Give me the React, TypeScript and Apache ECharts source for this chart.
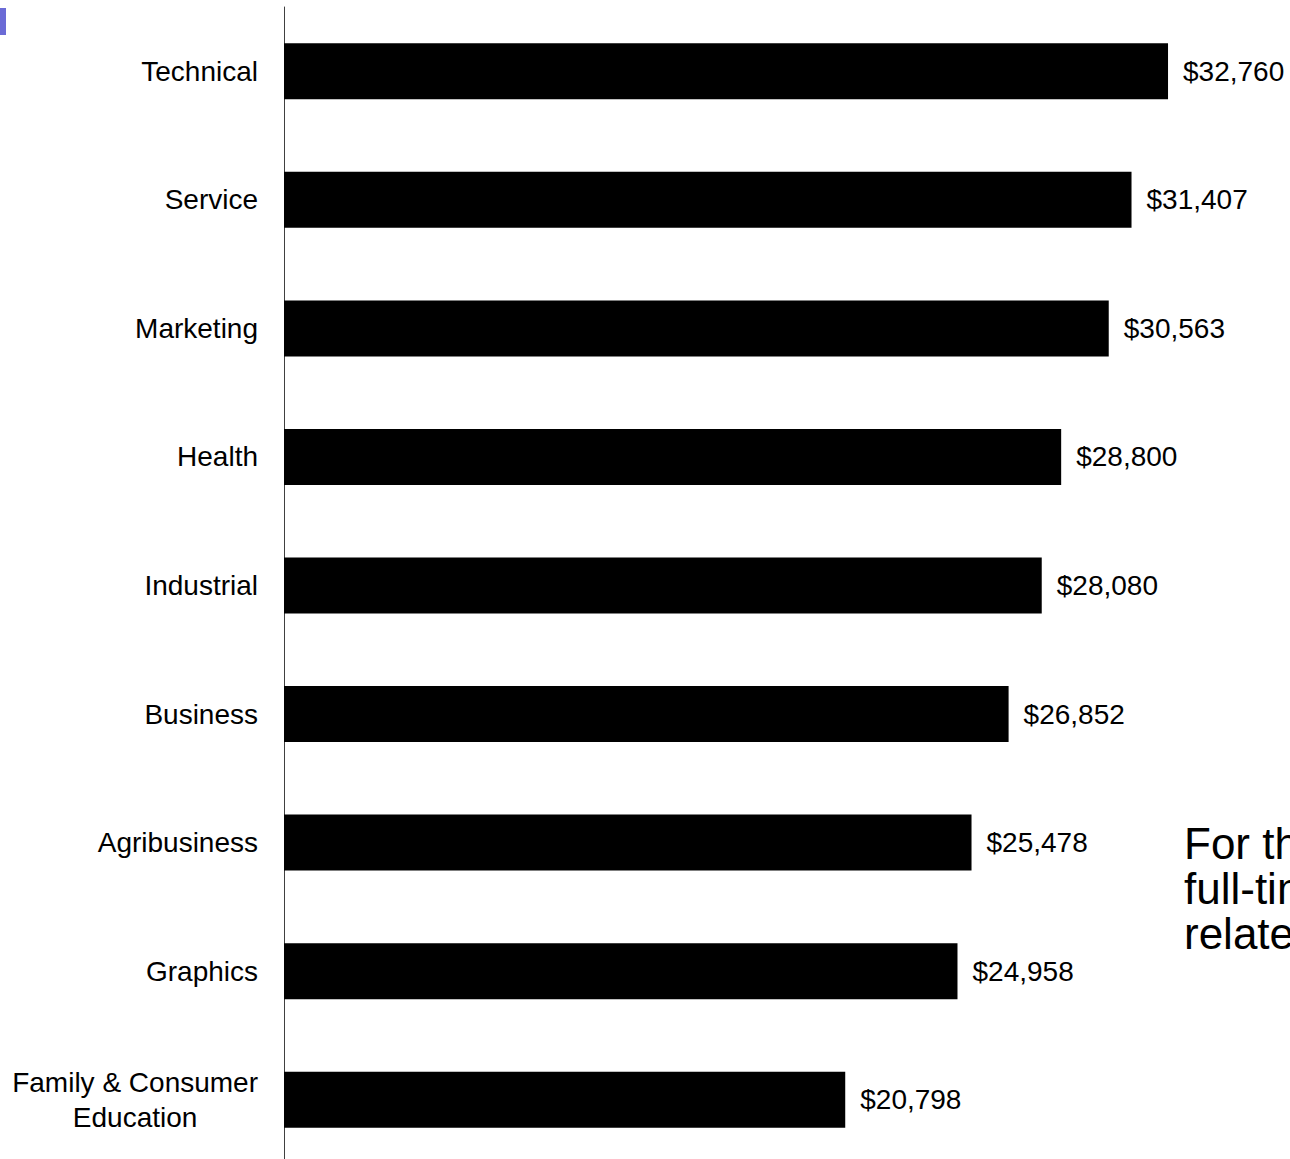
import React, { useEffect, useRef } from "react";
import * as echarts from "echarts";

const categories = [
  "Technical",
  "Service",
  "Marketing",
  "Health",
  "Industrial",
  "Business",
  "Agribusiness",
  "Graphics",
  "Family & Consumer\nEducation",
];
const salaries = [32760, 31407, 30563, 28800, 28080, 26852, 25478, 24958, 20798];
const sideTextLines = ["For the", "full-time", "related"];

export default function App() {
  const ref = useRef<HTMLDivElement>(null);
  useEffect(() => {
    if (!ref.current) return;
    const chart = echarts.init(ref.current, null, { renderer: "svg" });
    const font = "'Liberation Sans', Arial, sans-serif";
    chart.setOption({
      animation: false,
      backgroundColor: "#ffffff",
      grid: { left: 284, right: 0, top: 7, bottom: 1, containLabel: false },
      xAxis: {
        type: "value",
        min: 0,
        max: 37280,
        show: false,
      },
      yAxis: {
        type: "category",
        inverse: true,
        data: categories,
        axisTick: { show: false },
        axisLine: { show: true, lineStyle: { color: "#404040", width: 1 } },
        axisLabel: {
          margin: 26,
          color: "#000",
          fontFamily: font,
          fontSize: 28,
          lineHeight: 35,
          formatter: (v: string) =>
            v
              .split("\n")
              .map((s) => `{a|${s}}`)
              .join("\n"),
          rich: {
            a: {
              align: "center",
              color: "#000",
              fontFamily: font,
              fontSize: 28,
              lineHeight: 35,
            },
          },
        },
        splitLine: { show: false },
      },
      series: [
        {
          type: "bar",
          data: salaries,
          barWidth: 56,
          itemStyle: { color: "#000" },
          label: {
            show: true,
            position: "right",
            distance: 15,
            color: "#000",
            fontFamily: font,
            fontSize: 28,
            formatter: (p: any) => "$" + Number(p.value).toLocaleString("en-US"),
          },
        },
      ],
      graphic: [
        {
          type: "rect",
          left: 0,
          top: 8,
          shape: { width: 6, height: 27 },
          style: { fill: "#6b6bd6" },
        },
        {
          type: "text",
          x: 1184,
          y: 821,
          style: {
            text: sideTextLines.join("\n"),
            font: `44px ${font}`,
            lineHeight: 45,
            fill: "#000",
            verticalAlign: "top",
          },
        },
      ],
    });
    return () => chart.dispose();
  }, []);
  return (
    <div
      style={{
        position: "absolute",
        left: 0,
        top: 0,
        width: 1290,
        height: 1159,
        overflow: "hidden",
      }}
    >
      <div ref={ref} style={{ width: 1290, height: 1165 }} />
    </div>
  );
}
